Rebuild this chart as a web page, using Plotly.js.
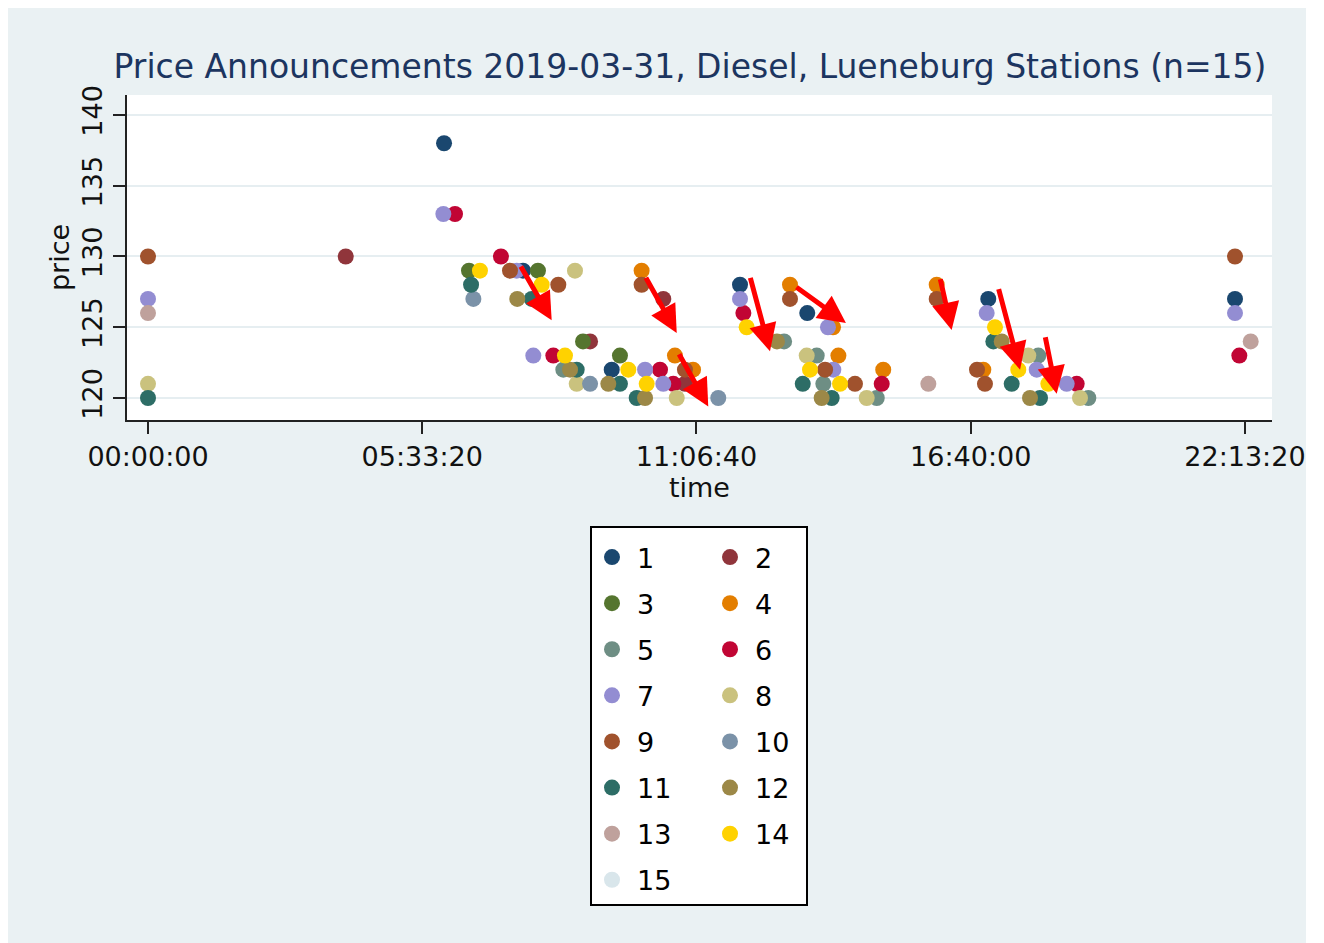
<!DOCTYPE html>
<html><head><meta charset="utf-8">
<script src="https://cdn.plot.ly/plotly-3.0.1.min.js"></script>
<style>html,body{margin:0;padding:0;background:#fff}#chart{width:1324px;height:943px}</style>
</head><body><div id="chart"></div>
<script>
// ---------------- data ----------------
const stationNames = ['1','2','3','4','5','6','7','8','9','10','11','12','13','14','15'];
const stationColors = ['#1a476f','#90353b','#55752f','#e37e00','#6e8e84','#c10534','#938dd2','#cac27e','#a0522d','#7b92a8','#2d6d66','#9c8847','#bfa19c','#ffd200','#d9e6eb'];

// time in seconds after midnight, price in cents
const time1  = [21590, 27350, 33820, 43175, 48080, 61280, 79275];
const price1 = [138, 129, 122, 128, 126, 127, 127];
const time2  = [14420, 32240, 37580, 39160];
const price2 = [130, 124, 127, 121];
const time3  = [23410, 28440, 31725, 34420];
const price3 = [129, 129, 124, 123];
const time4  = [36000, 38430, 39750, 46820, 49960, 50350, 53620, 57520, 60920];
const price4 = [129, 123, 122, 128, 125, 123, 122, 128, 122];
const time5  = [30290, 46390, 48770, 49250, 53150, 64930, 68580];
const price5 = [122, 124, 123, 121, 120, 123, 120];
const time6  = [22390, 25740, 29560, 37340, 38310, 43420, 53510, 67730, 79590];
const price6 = [133, 130, 123, 122, 121, 126, 121, 121, 123];
const time7  = [0, 21540, 26890, 28100, 36250, 37580, 43175, 49590, 49980, 61165, 64815, 67000, 79275];
const price7 = [127, 133, 129, 123, 122, 121, 127, 125, 122, 126, 122, 121, 126];
const time8  = [0, 31140, 31265, 38560, 48040, 52415, 64200, 67970];
const price8 = [121, 129, 121, 120, 123, 120, 123, 120];
const time9  = [0, 26400, 29925, 36000, 39160, 46820, 49380, 51560, 57520, 60460, 61040, 79275];
const price9 = [130, 129, 128, 128, 122, 127, 122, 121, 127, 122, 121, 130];
const time10  = [23730, 32240, 41590];
const price10 = [127, 121, 120];
const time11  = [0, 23560, 27985, 31265, 34420, 35640, 47750, 49860, 61650, 62990, 65055];
const price11 = [120, 128, 127, 122, 121, 120, 121, 120, 124, 121, 120];
const time12  = [26930, 30780, 33570, 36250, 45870, 49130, 62260, 64325];
const price12 = [127, 122, 121, 120, 124, 120, 124, 120];
const time13  = [0, 56910, 80420];
const price13 = [126, 121, 124];
const time14  = [24210, 28710, 30410, 35030, 36370, 43660, 48280, 50470, 61770, 63470, 65660];
const price14 = [129, 128, 123, 122, 121, 125, 122, 121, 125, 122, 121];
const time15  = [null];   // station 15: no announcement visible on this day
const price15 = [null];

const stationTimes  = [time1,time2,time3,time4,time5,time6,time7,time8,time9,time10,time11,time12,time13,time14,time15];
const stationPrices = [price1,price2,price3,price4,price5,price6,price7,price8,price9,price10,price11,price12,price13,price14,price15];

const xTickValues = [0, 20000, 40000, 60000, 80000];
const xTickLabels = ['00:00:00', '05:33:20', '11:06:40', '16:40:00', '22:13:20'];
const yTickValues = [120, 125, 130, 135, 140];

// red arrows (tail -> tip), in data units
const arrowFromTime  = [27130, 36250, 38675, 43900, 47185, 57760, 62010, 65420];
const arrowFromPrice = [129.4, 128.6, 123.2, 128.6, 127.9, 128.5, 127.8, 124.4];
const arrowToTime    = [29440, 38560, 40860, 45360, 50900, 58610, 63600, 66270];
const arrowToPrice   = [125.5, 124.6, 119.4, 123.3, 125.3, 124.8, 122.0, 120.3];

// ---------------- layout geometry ----------------
const W = 1324, H = 943;
const L = 127, R = 1272, T = 95, B = 420;
const px2x = px => (px - L) / (R - L);
const py2y = py => (B - py) / (B - T);
const FONT = 'DejaVu Sans';

const traces = stationNames.map((nm, i) => ({
  type: 'scatter', mode: 'markers',
  x: stationTimes[i], y: stationPrices[i],
  name: nm,
  legend: (i % 2 === 0) ? 'legend' : 'legend2',
  legendgroup: 'g' + i,
  marker: {color: stationColors[i], size: 16, line: {width: 0}},
  hoverinfo: 'x+y+name'
}));

const annotations = arrowFromTime.map((t, i) => ({
  x: arrowToTime[i], y: arrowToPrice[i], xref: 'x', yref: 'y',
  ax: t, ay: arrowFromPrice[i], axref: 'x', ayref: 'y',
  text: '', showarrow: true, arrowhead: 2, arrowsize: 1.1, arrowwidth: 5,
  arrowcolor: '#ff0000', standoff: 0, startstandoff: 0
}));

const shapes = [
  // white outer strips
  {type:'rect', xref:'paper', yref:'paper', x0:px2x(0), x1:px2x(8), y0:py2y(H), y1:py2y(0), fillcolor:'#ffffff', line:{width:0}, layer:'below'},
  {type:'rect', xref:'paper', yref:'paper', x0:px2x(1306), x1:px2x(W), y0:py2y(H), y1:py2y(0), fillcolor:'#ffffff', line:{width:0}, layer:'below'},
  {type:'rect', xref:'paper', yref:'paper', x0:px2x(0), x1:px2x(W), y0:py2y(8), y1:py2y(0), fillcolor:'#ffffff', line:{width:0}, layer:'below'},
  // legend box
  {type:'rect', xref:'paper', yref:'paper', x0:px2x(591), x1:px2x(807), y0:py2y(905), y1:py2y(527), fillcolor:'#ffffff', line:{color:'#000000', width:2}, layer:'below'}
];

const legendCommon = {
  xanchor: 'left', yanchor: 'top', bgcolor: 'rgba(0,0,0,0)', borderwidth: 0,
  font: {family: FONT, size: 27, color: '#000000'},
  tracegroupgap: 8, traceorder: 'grouped', itemwidth: 40
};

const layout = {
  width: W, height: H,
  margin: {l: L, r: W - R, t: T, b: H - B, pad: 0},
  paper_bgcolor: '#eaf1f3',
  plot_bgcolor: '#ffffff',
  font: {family: FONT, color: '#111111'},
  showlegend: true,
  title: {
    text: 'Price Announcements 2019-03-31, Diesel, Lueneburg Stations (n=15)',
    font: {family: FONT, size: 33, color: '#1c3560'},
    xref: 'container', yref: 'container', x: 690 / W, xanchor: 'center', y: 1 - 66 / H, yanchor: 'middle'
  },
  xaxis: {
    range: [-(148 - L) * 72.93, (R - 148) * 72.93],
    tickmode: 'array', tickvals: xTickValues, ticktext: xTickLabels,
    ticks: 'outside', ticklen: 12, tickwidth: 2, tickcolor: '#222',
    showline: true, linecolor: '#222', linewidth: 2,
    showgrid: false, zeroline: false,
    tickfont: {family: FONT, size: 27, color: '#111'},
    title: {text: 'time', font: {family: FONT, size: 27, color: '#111'}, standoff: 4},
    automargin: false
  },
  yaxis: {
    range: [118.445, 141.41],
    tickmode: 'array', tickvals: yTickValues,
    ticks: 'outside', ticklen: 12, tickwidth: 2, tickcolor: '#222',
    tickangle: -90,
    showline: true, linecolor: '#222', linewidth: 2,
    showgrid: true, gridcolor: '#e6eef1', gridwidth: 2, zeroline: false,
    tickfont: {family: FONT, size: 27, color: '#111'},
    title: {text: 'price', font: {family: FONT, size: 27, color: '#111'}, standoff: 0},
    automargin: false
  },
  legend: Object.assign({x: px2x(587), y: py2y(533)}, legendCommon),
  legend2: Object.assign({x: px2x(705), y: py2y(533)}, legendCommon),
  annotations: annotations,
  shapes: shapes
};

Plotly.newPlot('chart', traces, layout, {displayModeBar: false, responsive: false});
</script>
</body></html>
